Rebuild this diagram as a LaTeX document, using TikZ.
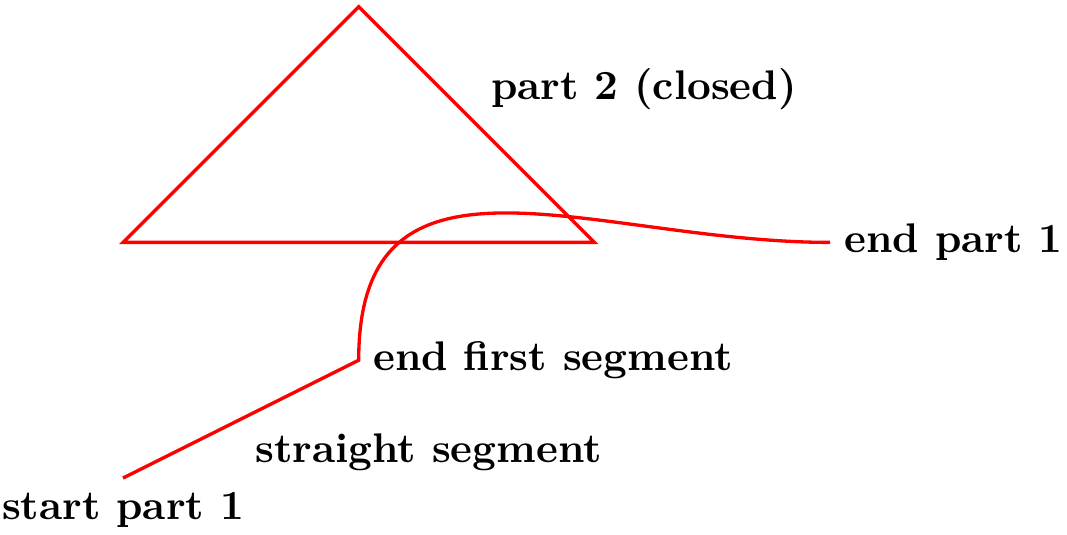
\documentclass[tikz,border=0pt]{standalone}
\begin{document}
\begin{tikzpicture}[
  pathline/.style={red, thick},
  lbl/.style={font=\bfseries, text=black}
]
\useasboundingbox (-1.044,-0.475) rectangle (8.011,4.057);
\coordinate (s) at (0,0);
\coordinate (e1) at (2,1);
\coordinate (ep) at (6,2);
\coordinate (ta) at (0,2);
\coordinate (tb) at (2,4);
\coordinate (tc) at (4,2);
\coordinate (mid1) at (1,0.5);
\coordinate (mid2) at (3,3);
\draw[pathline] (s) -- (e1) .. controls (2,3) and (4,2) .. (ep);
\draw[pathline] (ta) -- (tb) -- (tc) -- cycle;
\node[lbl, below] (nstart) at (s) {start part 1};
\node[lbl, below right] (nstraight) at (mid1) {straight segment};
\node[lbl, right] (nend1) at (e1) {end first segment};
\node[lbl, right] (nendp) at (ep) {end part 1};
\node[lbl, above right] (npart2) at (mid2) {part 2 (closed)};
\end{tikzpicture}
\end{document}
